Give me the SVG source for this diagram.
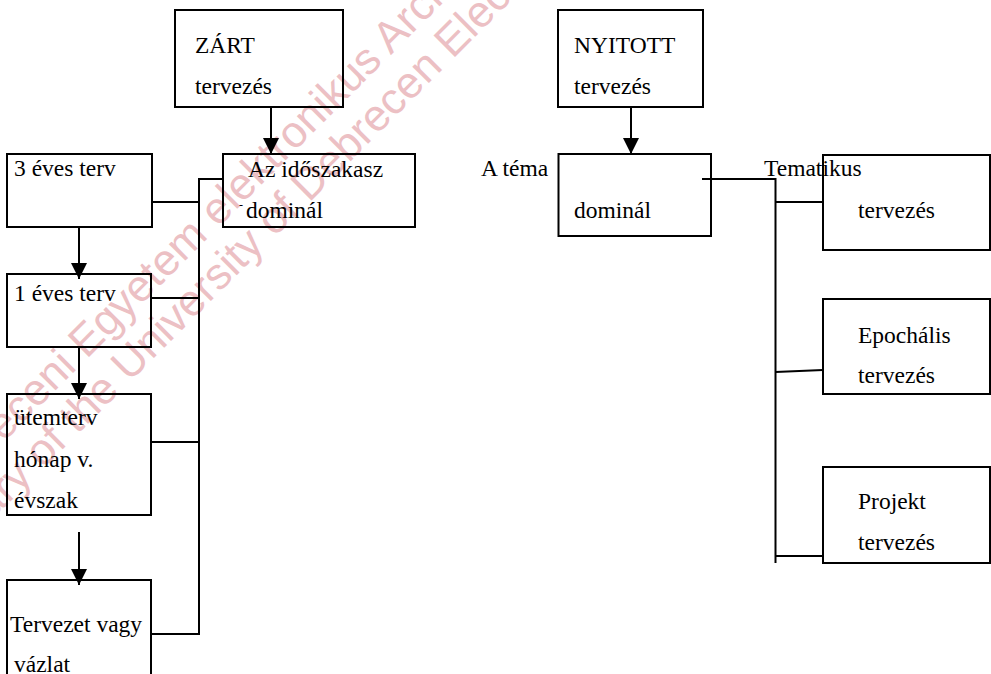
<svg xmlns="http://www.w3.org/2000/svg" width="991" height="674" viewBox="0 0 991 674">
<style>
.bg{fill:#ffffff}
.box{fill:none;stroke:#000;stroke-width:2}
.ln{fill:none;stroke:#000;stroke-width:2}
.t{font-family:"Liberation Serif","Times New Roman",serif;font-size:23.5px;fill:#000}
.wm{font-family:"Liberation Sans",Arial,sans-serif;font-size:44px;fill:#ecc0c4}
</style>
<defs>
<marker id="ah" markerUnits="userSpaceOnUse" markerWidth="16" markerHeight="16" refX="16" refY="8" orient="auto">
<path d="M0,0 L16,8 L0,16 z" fill="#000"/>
</marker>
</defs>
<rect class="bg" x="0" y="0" width="991" height="674"/>
<g id="watermark">
<text class="wm" transform="translate(-64,510) rotate(-45)">Debreceni Egyetem elektronikus Archívum</text>
<text class="wm" transform="translate(-61,573) rotate(-45)">Library of the University of Debrecen Electronic Archive</text>
</g>
<g id="connectors">
<path class="ln" d="M271,107 V154" marker-end="url(#ah)"/>
<path class="ln" d="M631,107 V154" marker-end="url(#ah)"/>
<path class="ln" d="M79,227 V279" marker-end="url(#ah)"/>
<path class="ln" d="M79,347 V399" marker-end="url(#ah)"/>
<path class="ln" d="M79,532 V585" marker-end="url(#ah)"/>
<path class="ln" d="M152,202 H199"/>
<path class="ln" d="M223,179 H199 V635"/>
<path class="ln" d="M151,298 H199"/>
<path class="ln" d="M151,442 H199"/>
<path class="ln" d="M151,634 H199"/>
<path class="ln" d="M702,179 H775.5 V563"/>
<path class="ln" d="M775.5,202 H823"/>
<path class="ln" d="M775.5,372 L823,370"/>
<path class="ln" d="M775.5,556 H823"/>
</g>
<g id="zart">
<rect class="box" x="175" y="10" width="168" height="97"/>
<text class="t" x="195" y="53">ZÁRT</text>
<text class="t" x="195" y="94">tervezés</text>
</g>
<g id="idoszakasz">
<rect class="box" x="223" y="154" width="192" height="73"/>
<text class="t" x="248" y="176.5">Az időszakasz</text>
<text class="t" x="239" y="208.5" style="font-size:12px">-</text>
<text class="t" x="246" y="218">dominál</text>
</g>
<g id="harom-eves">
<rect class="box" x="7" y="154" width="145" height="73"/>
<text class="t" x="14" y="176">3 éves terv</text>
</g>
<g id="egy-eves">
<rect class="box" x="7" y="274" width="144" height="73"/>
<text class="t" x="14" y="300.5">1 éves terv</text>
</g>
<g id="utemterv">
<rect class="box" x="7" y="394" width="144" height="121"/>
<text class="t" x="14" y="425">ütemterv</text>
<text class="t" x="14" y="466.5">hónap v.</text>
<text class="t" x="14" y="508">évszak</text>
</g>
<g id="tervezet">
<rect class="box" x="7" y="580" width="144" height="120"/>
<text class="t" x="10" y="632">Tervezet vagy</text>
<text class="t" x="14" y="672">vázlat</text>
</g>
<g id="nyitott">
<rect class="box" x="558" y="10" width="145" height="97"/>
<text class="t" x="574" y="53">NYITOTT</text>
<text class="t" x="574" y="94">tervezés</text>
</g>
<g id="tema">
<rect class="box" x="558.5" y="154" width="152.5" height="82"/>
<text class="t" x="481" y="176">A téma</text>
<text class="t" x="574" y="218">dominál</text>
</g>
<g id="tematikus">
<rect class="box" x="823" y="155" width="167" height="95"/>
<text class="t" x="764" y="176">Tematikus</text>
<text class="t" x="858" y="218">tervezés</text>
</g>
<g id="epochalis">
<rect class="box" x="823" y="299" width="167" height="95"/>
<text class="t" x="858" y="342.5">Epochális</text>
<text class="t" x="858" y="383">tervezés</text>
</g>
<g id="projekt">
<rect class="box" x="823" y="467" width="167" height="96"/>
<text class="t" x="858" y="509">Projekt</text>
<text class="t" x="858" y="549.5">tervezés</text>
</g>
</svg>
